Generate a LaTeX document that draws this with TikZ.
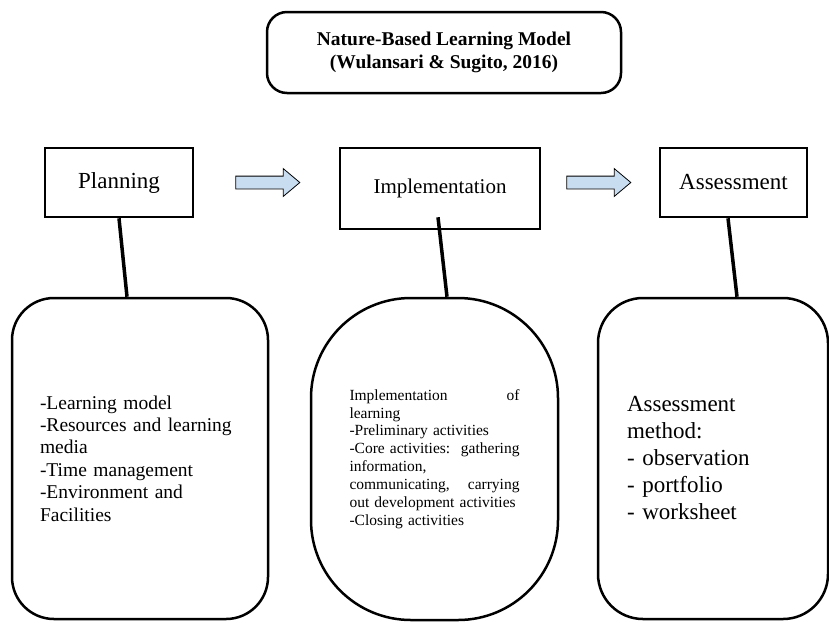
\documentclass[tikz,border=0pt]{standalone}
\usepackage{fontspec}
\setmainfont{Liberation Serif}
\usetikzlibrary{shapes.arrows}
\definecolor{arrowblue}{RGB}{201,221,241}
\hyphenpenalty=10000

\begin{document}
\begin{tikzpicture}[x=1pt, y=-1pt,
	stage/.style={draw, line width=2.5pt, inner sep=0pt},
	detail/.style={draw, line width=2.5pt, inner sep=0pt, align=left},
	link/.style={line width=3.5pt},
	flow/.style={draw, line width=0.8pt, fill=arrowblue, single arrow, single arrow head extend=7.5pt,
		single arrow head indent=0pt, single arrow tip angle=80, minimum height=64pt, minimum width=27pt, inner sep=6pt}]
			%%%%% START %%%%%
			
			\useasboundingbox (0,0) rectangle (829,622);
			
			\node[stage, rounded corners=20pt, minimum width=354pt, minimum height=81pt, align=center,
				font=\fontsize{19.5}{22.5}\selectfont\bfseries] (model) at (444,52.5)
				{Nature-Based Learning Model\\(Wulansari \& Sugito, 2016)};
			
			\node[stage, minimum width=148pt, minimum height=69pt, font=\fontsize{23}{27}\selectfont] (plan) at (119,182.5) {Planning};
			\node[stage, minimum width=200pt, minimum height=81pt, font=\fontsize{21}{25}\selectfont] (impl) at (440,188.5) {Implementation};
			\node[stage, minimum width=147pt, minimum height=69pt, font=\fontsize{23}{27}\selectfont] (asse) at (733.5,182.5) {Assessment};
			
			\node[flow] (arr1) at (264,182.5) {};
			\node[flow] (arr2) at (595,182.5) {};
			
			\node[detail, rounded corners=42pt, minimum width=256pt, minimum height=321pt, text width=200pt,
				font=\fontsize{19.5}{22.4}\selectfont] (plandet) at (140,458.5)
				{-Learning model\\-Resources and learning\\media\\-Time management\\-Environment and\\Facilities};
			
			\node[detail, rounded corners=100pt, minimum width=247pt, minimum height=322pt, text width=170pt,
				font=\fontsize{15.5}{17.9}\selectfont] (impldet) at (434.5,459)
				{Implementation\hfill of\\learning\\-Preliminary activities\\-Core activities:\hfill gathering\\information,\\communicating,\hfill carrying\\out development activities\\-Closing activities};
			
			\node[detail, rounded corners=45pt, minimum width=230pt, minimum height=321pt, text width=172pt,
				font=\fontsize{23}{27}\selectfont] (assedet) at (713,458.5)
				{Assessment\\method:\\- observation\\- portfolio\\- worksheet};
			
			\draw[link] (plan.south) -- ([xshift=-13pt]plandet.north);
			\draw[link] ([xshift=-2pt, yshift=13pt]impl.south) -- ([xshift=12.5pt]impldet.north);
			\draw[link] ([xshift=-5.5pt]asse.south) -- ([xshift=24pt]assedet.north);
			
			%%%%% END %%%%%
		\end{tikzpicture}
\end{document}
